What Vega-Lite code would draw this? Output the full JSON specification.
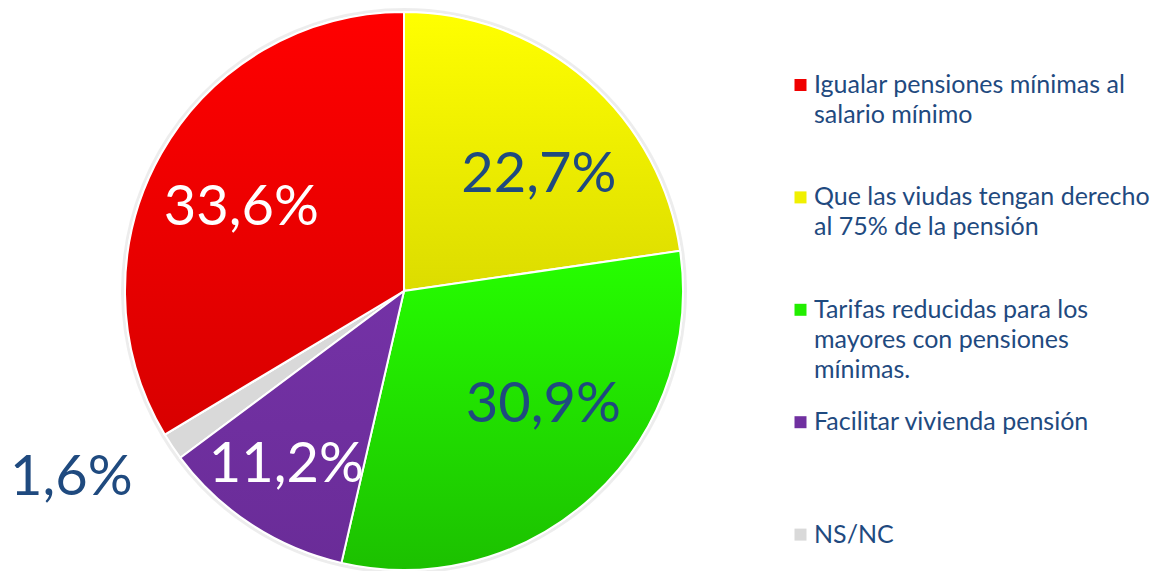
{
  "$schema": "https://vega.github.io/schema/vega-lite/v6.json",
  "width": 808,
  "height": 558,
  "autosize": {"type": "none"},
  "padding": {"left": 0, "top": 12, "right": 347, "bottom": 1},
  "background": "white",
  "config": {
    "view": {"stroke": null},
    "font": "Lato",
    "style": {"guide-label": {"lineHeight": 30}},
    "locale": {"number": {"decimal": ",", "thousands": ".", "grouping": [3], "currency": ["", " €"]}}
  },
  "data": {
    "values": [
      {"cat": "Que las viudas tengan derecho al 75% de la pensión", "share": 0.227},
      {"cat": "Tarifas reducidas para los mayores con pensiones mínimas.", "share": 0.309},
      {"cat": "Facilitar vivienda pensión", "share": 0.112},
      {"cat": "NS/NC", "share": 0.016},
      {"cat": "Igualar pensiones mínimas al salario mínimo", "share": 0.336}
    ]
  },
  "transform": [
    {"window": [{"op": "row_number", "as": "idx"}]},
    {"stack": "share", "groupby": [], "sort": [{"field": "idx", "order": "ascending"}], "as": ["v0", "v1"]}
  ],
  "layer": [
    {
      "mark": {"type": "arc", "outerRadius": 283, "fill": "#000000", "fillOpacity": 0.07, "strokeWidth": 0},
      "encoding": {
        "theta": {"field": "v0", "type": "quantitative", "scale": {"domain": [0, 1]}},
        "theta2": {"field": "v1"}
      }
    },
    {
      "mark": {"type": "arc", "stroke": "white", "strokeWidth": 2},
      "encoding": {
        "theta": {"field": "v0", "type": "quantitative", "scale": {"domain": [0, 1]}},
        "theta2": {"field": "v1"},
        "color": {
          "field": "cat",
          "type": "nominal",
          "scale": {
            "domain": [
              "Igualar pensiones mínimas al salario mínimo",
              "Que las viudas tengan derecho al 75% de la pensión",
              "Tarifas reducidas para los mayores con pensiones mínimas.",
              "Facilitar vivienda pensión",
              "NS/NC"
            ],
            "range": ["#f00000", "#f0f000", "#22ee00", "#7030a0", "#d9d9d9"]
          },
          "legend": {
            "orient": "none",
            "legendX": 788,
            "legendY": 60.5,
            "title": null,
            "padding": 0,
            "symbolType": "square",
            "symbolSize": 144,
            "symbolStrokeWidth": 0,
            "labelFont": "Lato",
            "labelFontSize": 25,
            "labelColor": "#1f4a7f",
            "labelLimit": 600,
            "labelOffset": 1,
            "labelBaseline": "middle",
            "rowPadding": 26.4,
            "labelExpr": "datum.label === 'Igualar pensiones mínimas al salario mínimo' ? ['Igualar pensiones mínimas al', 'salario mínimo', ''] : datum.label === 'Que las viudas tengan derecho al 75% de la pensión' ? ['Que las viudas tengan derecho', 'al 75% de la pensión', ''] : datum.label === 'Tarifas reducidas para los mayores con pensiones mínimas.' ? ['Tarifas reducidas para los', 'mayores con pensiones', 'mínimas.'] : [datum.label, '', '']"
          }
        }
      }
    },
    {
      "transform": [{"filter": "datum.cat === 'Igualar pensiones mínimas al salario mínimo'"}],
      "mark": {"type": "arc", "stroke": "white", "strokeWidth": 2,
        "fill": {"gradient": "linear", "x1": 0, "y1": 0, "x2": 0, "y2": 1, "stops": [{"offset": 0, "color": "#ff0000"}, {"offset": 1, "color": "#d80000"}]}},
      "encoding": {
        "theta": {"field": "v0", "type": "quantitative", "scale": {"domain": [0, 1]}},
        "theta2": {"field": "v1"}
      }
    },
    {
      "transform": [{"filter": "datum.cat === 'Que las viudas tengan derecho al 75% de la pensión'"}],
      "mark": {"type": "arc", "stroke": "white", "strokeWidth": 2,
        "fill": {"gradient": "linear", "x1": 0, "y1": 0, "x2": 0, "y2": 1, "stops": [{"offset": 0, "color": "#ffff00"}, {"offset": 1, "color": "#dcdc00"}]}},
      "encoding": {
        "theta": {"field": "v0", "type": "quantitative", "scale": {"domain": [0, 1]}},
        "theta2": {"field": "v1"}
      }
    },
    {
      "transform": [{"filter": "datum.cat === 'Tarifas reducidas para los mayores con pensiones mínimas.'"}],
      "mark": {"type": "arc", "stroke": "white", "strokeWidth": 2,
        "fill": {"gradient": "linear", "x1": 0, "y1": 0, "x2": 0, "y2": 1, "stops": [{"offset": 0, "color": "#26ff00"}, {"offset": 1, "color": "#1cc000"}]}},
      "encoding": {
        "theta": {"field": "v0", "type": "quantitative", "scale": {"domain": [0, 1]}},
        "theta2": {"field": "v1"}
      }
    },
    {
      "transform": [{"filter": "datum.cat === 'Facilitar vivienda pensión'"}],
      "mark": {"type": "arc", "stroke": "white", "strokeWidth": 2,
        "fill": {"gradient": "linear", "x1": 0, "y1": 0, "x2": 0, "y2": 1, "stops": [{"offset": 0, "color": "#7432a6"}, {"offset": 1, "color": "#6a2c98"}]}},
      "encoding": {
        "theta": {"field": "v0", "type": "quantitative", "scale": {"domain": [0, 1]}},
        "theta2": {"field": "v1"}
      }
    },
    {
      "mark": {"type": "text", "radius": 180, "dx": -6, "dy": 6, "fontSize": 56, "font": "Lato", "fill": "white", "align": "center", "baseline": "middle"},
      "encoding": {
        "theta": {"field": "share", "type": "quantitative", "stack": true, "scale": {"domain": [0, 1]}},
        "order": {"field": "idx", "type": "quantitative"},
        "text": {"condition": {"test": "datum.cat === 'Igualar pensiones mínimas al salario mínimo'", "field": "share", "type": "quantitative", "format": ".1%"}, "value": ""}
      }
    },
    {
      "mark": {"type": "text", "radius": 180, "dx": 17, "dy": 20, "fontSize": 56, "font": "Lato", "fill": "#1f4a7f", "align": "center", "baseline": "middle"},
      "encoding": {
        "theta": {"field": "share", "type": "quantitative", "stack": true, "scale": {"domain": [0, 1]}},
        "order": {"field": "idx", "type": "quantitative"},
        "text": {"condition": {"test": "datum.cat === 'Que las viudas tengan derecho al 75% de la pensión'", "field": "share", "type": "quantitative", "format": ".1%"}, "value": ""}
      }
    },
    {
      "mark": {"type": "text", "radius": 179, "dx": 18, "dy": -18, "fontSize": 56, "font": "Lato", "fill": "#1f4a7f", "align": "center", "baseline": "middle"},
      "encoding": {
        "theta": {"field": "share", "type": "quantitative", "stack": true, "scale": {"domain": [0, 1]}},
        "order": {"field": "idx", "type": "quantitative"},
        "text": {"condition": {"test": "datum.cat === 'Tarifas reducidas para los mayores con pensiones mínimas.'", "field": "share", "type": "quantitative", "format": ".1%"}, "value": ""}
      }
    },
    {
      "mark": {"type": "text", "radius": 208, "dx": -4, "dy": 0, "fontSize": 56, "font": "Lato", "fill": "white", "align": "center", "baseline": "middle"},
      "encoding": {
        "theta": {"field": "share", "type": "quantitative", "stack": true, "scale": {"domain": [0, 1]}},
        "order": {"field": "idx", "type": "quantitative"},
        "text": {"condition": {"test": "datum.cat === 'Facilitar vivienda pensión'", "field": "share", "type": "quantitative", "format": ".1%"}, "value": ""}
      }
    },
    {
      "mark": {"type": "text", "radius": 380, "dx": -17, "dy": -25, "fontSize": 56, "font": "Lato", "fill": "#1f4a7f", "align": "center", "baseline": "middle"},
      "encoding": {
        "theta": {"field": "share", "type": "quantitative", "stack": true, "scale": {"domain": [0, 1]}},
        "order": {"field": "idx", "type": "quantitative"},
        "text": {"condition": {"test": "datum.cat === 'NS/NC'", "field": "share", "type": "quantitative", "format": ".1%"}, "value": ""}
      }
    }
  ]
}
